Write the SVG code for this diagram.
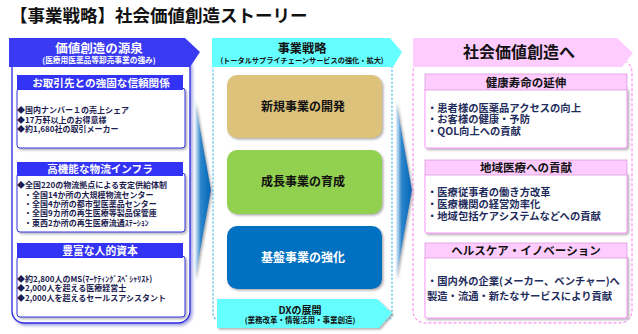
<svg xmlns="http://www.w3.org/2000/svg" width="638" height="334" viewBox="0 0 638 334">
<defs>
<style>
text{font-family:"Noto Sans CJK JP","Noto Sans",sans-serif}
.title{font-size:17.5px;font-weight:700;fill:#111}
.hw{fill:#fff;font-weight:700;text-anchor:middle}
.hb{fill:#111;font-weight:700;text-anchor:middle}
.lt{font-size:8px;font-weight:700;fill:#1c1c50}
.rt{font-size:10.3px;font-weight:700;fill:#1f2d5c}
.lhead{fill:#3333f5}
.lbody{fill:#fff;stroke:#3333e8;stroke-width:1}
.rhead{fill:#ffccff;stroke:#dd99dd;stroke-width:0.8}
.rbody{fill:#fff;stroke:#ff99ff;stroke-width:1}
</style>
<filter id="sh" x="-10%" y="-10%" width="130%" height="130%">
<feDropShadow dx="1.5" dy="1.5" stdDeviation="1" flood-color="#777" flood-opacity="0.6"/>
</filter>
<filter id="shb" x="-10%" y="-10%" width="130%" height="130%">
<feDropShadow dx="2" dy="2" stdDeviation="1.5" flood-color="#6a6ad0" flood-opacity="0.6"/>
</filter>
<linearGradient id="ag" x1="0" y1="0" x2="1" y2="0">
<stop offset="0" stop-color="#e6f1fb"/>
<stop offset="0.35" stop-color="#2f86cc"/>
<stop offset="1" stop-color="#0066b8"/>
</linearGradient>
</defs>

<text class="title" x="10" y="22">【事業戦略】社会価値創造ストーリー</text>

<g id="connectors">
<polygon points="195,101 211,190 195,279" fill="url(#ag)" filter="url(#sh)"/>
<polygon points="396,101 412,190 396,279" fill="url(#ag)" filter="url(#sh)"/>
</g>

<g id="left-column">
<rect x="12" y="55" width="178" height="268" rx="12" fill="#fff" stroke="#2626e0" stroke-width="1.3" filter="url(#shb)"/>
<polygon points="9,38 185,38 200,52 190,67 9,67" fill="#3a3af2"/>
<text class="hw" x="99" y="53" font-size="12.5px">価値創造の源泉</text>
<text class="hw" x="99" y="63" font-size="7.7px">(医療用医薬品等卸売事業の強み)</text>
</g>

<g id="trust">
<rect class="lbody" x="17" y="88" width="168" height="60" rx="3" filter="url(#sh)"/>
<rect class="lhead" x="17" y="75" width="166" height="15"/>
<text class="hw" x="101" y="86.5" font-size="10.6px">お取引先との強固な信頼関係</text>
<text class="lt" x="17" y="113">◆国内ナンバー１の売上シェア</text>
<text class="lt" x="17" y="122.5">◆17万軒以上のお得意様</text>
<text class="lt" x="17" y="132">◆約1,680社の取引メーカー</text>
</g>

<g id="logistics">
<rect class="lbody" x="17" y="173" width="168" height="59" rx="3" filter="url(#sh)"/>
<rect class="lhead" x="17" y="162" width="166" height="14"/>
<text class="hw" x="100" y="173" font-size="10.6px">高機能な物流インフラ</text>
<text class="lt" x="17" y="187.5">◆全国220の物流拠点による安定供給体制</text>
<text class="lt" x="24" y="197.5">・全国14か所の大規模物流センター</text>
<text class="lt" x="24" y="206.5">・全国4か所の都市型医薬品センター</text>
<text class="lt" x="24" y="216">・全国9カ所の再生医療等製品保管庫</text>
<text class="lt" x="24" y="226">・東西2か所の再生医療流通ｽﾃｰｼｮﾝ</text>
</g>

<g id="human">
<rect class="lbody" x="17" y="256" width="168" height="61" rx="3" filter="url(#sh)"/>
<rect class="lhead" x="17" y="243" width="166" height="15"/>
<text class="hw" x="100" y="254.5" font-size="10.8px">豊富な人的資本</text>
<text class="lt" x="17" y="281.5">◆約2,800人のMS(ﾏｰｹﾃｨﾝｸﾞｽﾍﾟｼｬﾘｽﾄ)</text>
<text class="lt" x="17" y="290.5">◆2,000人を超える医療経営士</text>
<text class="lt" x="17" y="300.5">◆2,000人を超えるセールスアシスタント</text>
</g>

<g id="middle-column">
<rect x="213" y="60" width="179" height="260" rx="6" fill="none" stroke="#44bbee" stroke-width="1.3" stroke-dasharray="2,2"/>
<polygon points="212,38 390,38 402,52 393,67 212,67" fill="#66ffff"/>
<text class="hb" x="302" y="53" font-size="12.2px" font-weight="500">事業戦略</text>
<text class="hb" x="302" y="63" font-size="7.2px">(トータルサプライチェーンサービスの強化・拡大)</text>
</g>

<g id="new-business">
<rect x="227" y="75" width="155" height="63" rx="10" fill="#dcc27a" filter="url(#sh)"/>
<text class="hb" x="303" y="111" font-size="12px">新規事業の開発</text>
</g>
<g id="growth-business">
<rect x="227" y="150" width="155" height="64" rx="10" fill="#92d050" filter="url(#sh)"/>
<text class="hb" x="303" y="186" font-size="12px">成長事業の育成</text>
</g>
<g id="core-business">
<rect x="227" y="226" width="155" height="63" rx="10" fill="#0070c0" filter="url(#sh)"/>
<text class="hw" x="303" y="261.5" font-size="12px">基盤事業の強化</text>
</g>
<g id="dx">
<polygon points="217,299 377,299 392,313 379,328 217,328" fill="#66ffff" filter="url(#sh)"/>
<text class="hb" x="300" y="313.5" font-size="10px">DXの展開</text>
<text class="hb" x="300" y="323" font-size="7.5px">(業務改革・情報活用・事業創造)</text>
</g>

<g id="right-column">
<rect x="413" y="60" width="219" height="263" rx="12" fill="none" stroke="#ff77ee" stroke-width="1" stroke-dasharray="3,2"/>
<polygon points="413,38 617,38 633,53 622,67 413,67" fill="#ffccff"/>
<text class="hb" x="519" y="57.5" font-size="16px" font-weight="500">社会価値創造へ</text>
</g>

<g id="healthy-life">
<rect class="rbody" x="425" y="88" width="202" height="60" rx="2" filter="url(#sh)"/>
<rect class="rhead" x="425" y="74" width="202" height="16"/>
<text class="hb" x="526" y="86.5" font-size="11.5px" font-weight="500">健康寿命の延伸</text>
<text class="rt" x="427" y="111.5">・患者様の医薬品アクセスの向上</text>
<text class="rt" x="427" y="123">・お客様の健康・予防</text>
<text class="rt" x="427" y="135">・QOL向上への貢献</text>
</g>

<g id="regional">
<rect class="rbody" x="425" y="173" width="202" height="60" rx="2" filter="url(#sh)"/>
<rect class="rhead" x="425" y="160" width="202" height="15"/>
<text class="hb" x="526" y="171.5" font-size="11.5px" font-weight="500">地域医療への貢献</text>
<text class="rt" x="427" y="196">・医療従事者の働き方改革</text>
<text class="rt" x="427" y="207.5">・医療機関の経営効率化</text>
<text class="rt" x="427" y="220">・地域包括ケアシステムなどへの貢献</text>
</g>

<g id="innovation">
<rect class="rbody" x="425" y="256" width="202" height="62" rx="2" filter="url(#sh)"/>
<rect class="rhead" x="425" y="243" width="202" height="15"/>
<text class="hb" x="526" y="254.5" font-size="11.5px" font-weight="500">ヘルスケア・イノベーション</text>
<text class="rt" x="427" y="285">・国内外の企業(メーカー、ベンチャー)へ</text>
<text class="rt" x="427" y="299.5">製造・流通・新たなサービスにより貢献</text>
</g>
</svg>
